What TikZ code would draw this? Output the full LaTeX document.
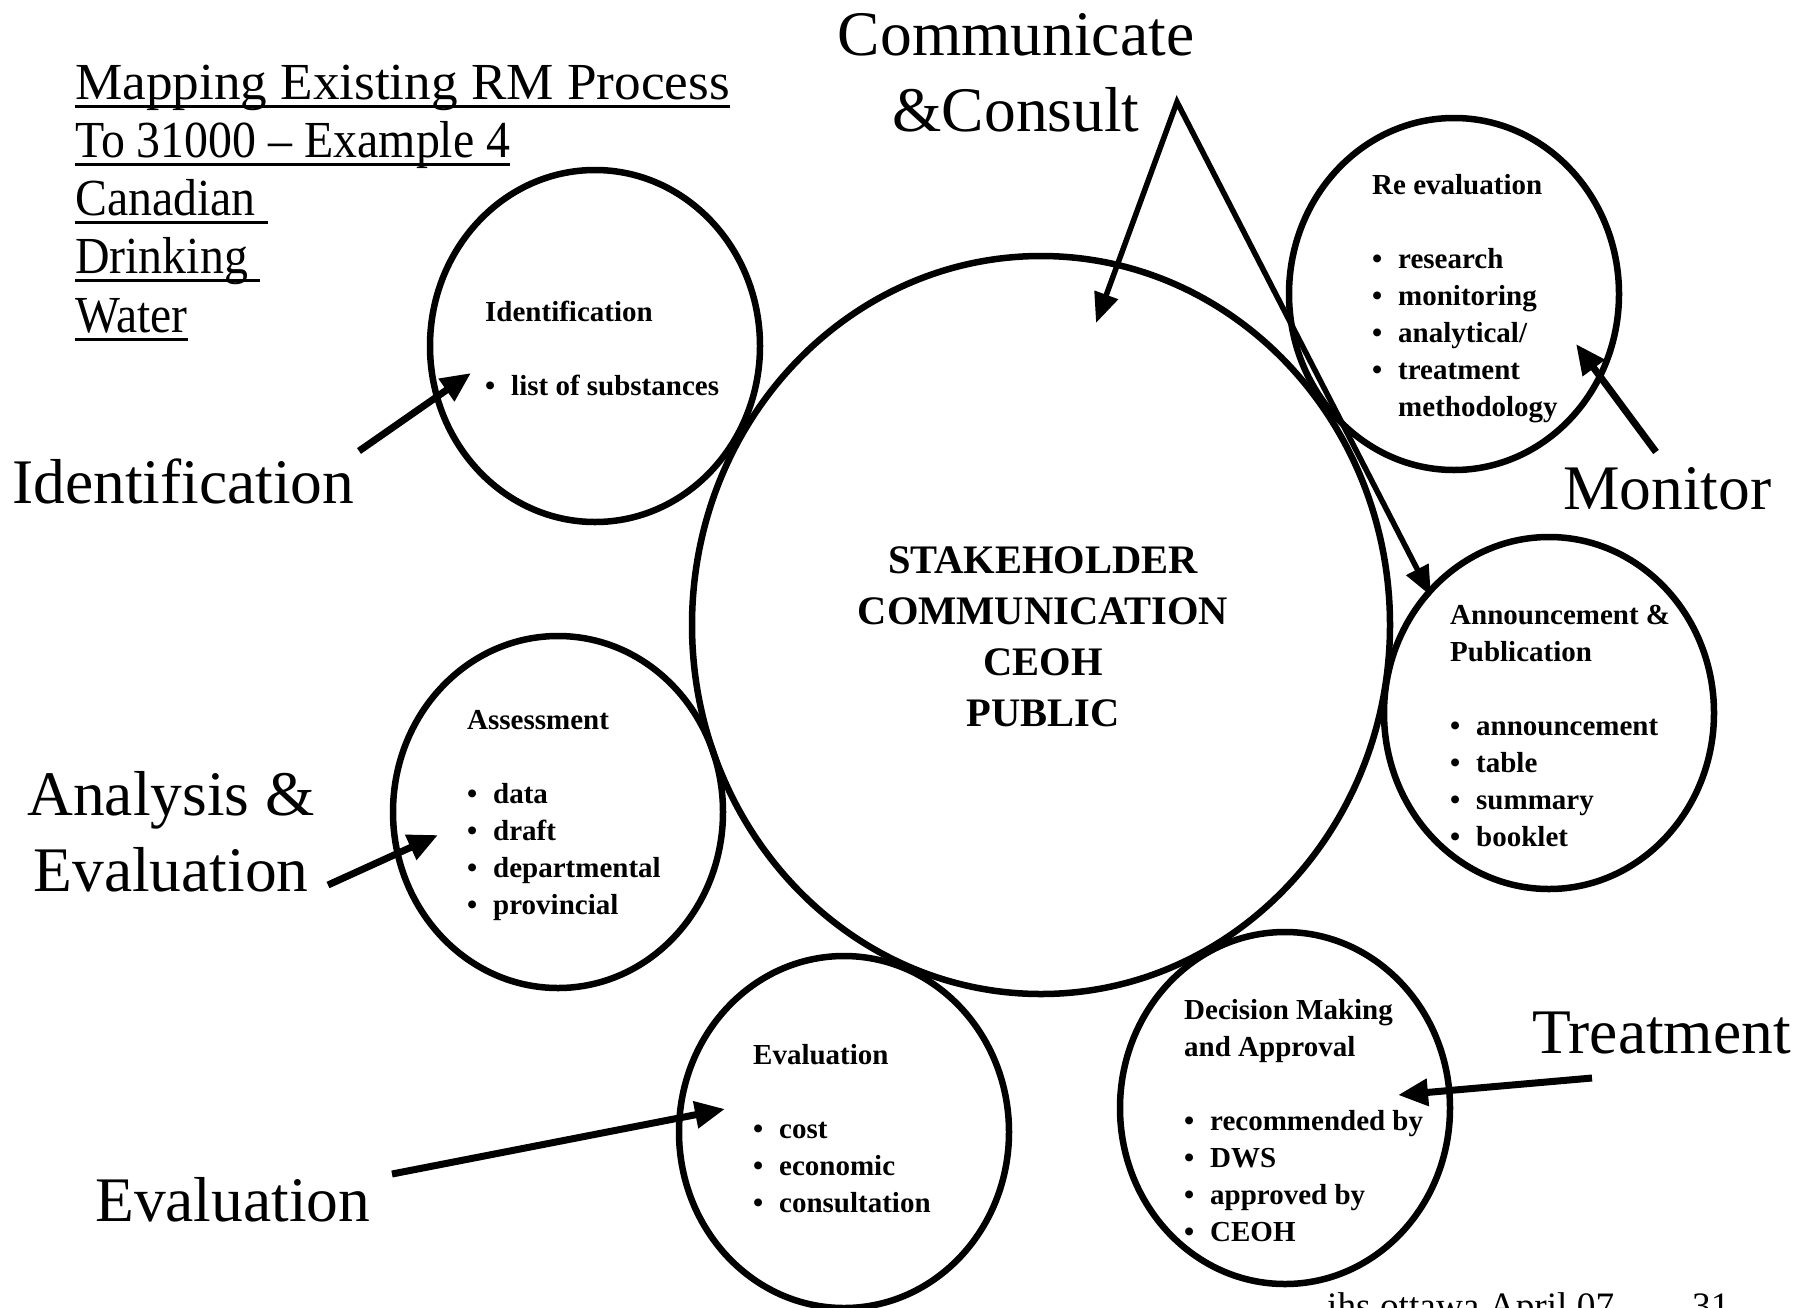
\documentclass[tikz,border=0pt]{standalone}
\usepackage{fontspec}
\usepackage{graphicx}
\setmainfont{Liberation Serif}
\usetikzlibrary{shapes.geometric,arrows.meta}

% underlined title word with the rule at a fixed distance below the baseline
\newcommand\ulword[1]{\setbox0\hbox{#1}\rlap{\rule[-8.5pt]{\wd0}{3pt}}\box0}
% horizontally adjusted title line
\newcommand\tline[2]{\ulword{\scalebox{#1}[1]{#2}}}
% bullet item inside the small circles
\newcommand\bul[1]{\makebox[26pt][l]{\textbullet}#1}

\begin{document}
\begin{tikzpicture}[x=1pt,y=-1pt,
  ring/.style={ellipse, draw, line width=6.5pt, inner sep=0pt,
               minimum width=330pt, minimum height=352pt},
  hub/.style={ellipse, draw, line width=6.5pt, inner sep=0pt,
              minimum width=698pt, minimum height=738pt},
  biglabel/.style={font=\fontsize{63.5}{76}\selectfont, inner sep=0pt},
  smalltext/.style={font=\fontsize{29}{37}\selectfont\bfseries, inner sep=0pt, anchor=base west},
  footfont/.style={font=\fontsize{37.3}{40}\selectfont, inner sep=0pt, anchor=base west},
  pointer/.style={line width=7pt, -{Triangle[length=30pt,width=26pt]}},
  thinpointer/.style={line width=5.5pt}
]
\useasboundingbox (0,0) rectangle (1809,1307);

% circles
\node[hub]  (hub)    at (1041,625) {};
\node[ring] (ident)  at (595,346)  {};
\node[ring] (reeval) at (1454,294) {};
\node[ring] (announ) at (1549,713) {};
\node[ring] (assess) at (558,812)  {};
\node[ring] (evalc)  at (844,1132) {};
\node[ring] (decis)  at (1285,1108) {};

% title
\node[font=\fontsize{52}{58.3}\selectfont, inner sep=0pt, anchor=base west] (title) at (75,99)
  {\begin{tabular}[t]{@{}l@{}}\tline{1.023}{Mapping Existing RM Process}\\
   \tline{0.92}{To 31000 -- Example 4}\\ \tline{0.92}{Canadian\ }\\
   \tline{0.92}{Drinking\ }\\ \tline{0.915}{Water}\end{tabular}};

% centre text
\node[font=\fontsize{40.5}{51}\selectfont\bfseries, inner sep=0pt, anchor=base] (hubtxt) at (1043,573)
  {\begin{tabular}[t]{@{}c@{}}STAKEHOLDER\\ COMMUNICATION\\ CEOH\\ PUBLIC\end{tabular}};

% circle contents
\node[smalltext] (identtxt) at (485,321)
  {\begin{tabular}[t]{@{}l@{}}Identification\\ \\ \bul{list of substances}\end{tabular}};
\node[smalltext] (reevaltxt) at (1372,194)
  {\begin{tabular}[t]{@{}l@{}}Re evaluation\\ \\ \bul{research}\\ \bul{monitoring}\\ \bul{analytical/}\\ \bul{treatment}\\ \hspace*{26pt}methodology\end{tabular}};
\node[smalltext] (annountxt) at (1450,624)
  {\begin{tabular}[t]{@{}l@{}}Announcement \&\\ Publication\\ \\ \bul{announcement}\\ \bul{table}\\ \bul{summary}\\ \bul{booklet}\end{tabular}};
\node[smalltext] (assesstxt) at (467,729)
  {\begin{tabular}[t]{@{}l@{}}Assessment\\ \\ \bul{data}\\ \bul{draft}\\ \bul{departmental}\\ \bul{provincial}\end{tabular}};
\node[smalltext] (evaltxt) at (753,1064)
  {\begin{tabular}[t]{@{}l@{}}Evaluation\\ \\ \bul{cost}\\ \bul{economic}\\ \bul{consultation}\end{tabular}};
\node[smalltext] (decistxt) at (1184,1019)
  {\begin{tabular}[t]{@{}l@{}}Decision Making\\ and Approval\\ \\ \bul{recommended by}\\ \bul{DWS}\\ \bul{approved by}\\ \bul{CEOH}\end{tabular}};

% outer labels
\node[biglabel, anchor=base] (commlbl) at (1016,55)
  {\begin{tabular}[t]{@{}c@{}}Communicate\\ \&Consult\end{tabular}};
\node[biglabel, anchor=base west] (identlbl) at (12,503) {Identification};
\node[biglabel, anchor=base west] (monlbl) at (1563,509) {Monitor};
\node[biglabel, anchor=base] (analbl) at (171,815)
  {\begin{tabular}[t]{@{}c@{}}Analysis \&\\ Evaluation\end{tabular}};
\node[biglabel, anchor=base west] (treatlbl) at (1532,1053) {Treatment};
\node[biglabel, anchor=base west] (evallbl) at (95,1221) {Evaluation};

% footer, running off the lower edge
\node[footfont] (footer) at (1327,1318) {ihs ottawa April 07};
\node[footfont] (pageno) at (1692,1318) {31};

% arrow end points
\coordinate (apex)     at (1177,102);
\coordinate (commtipA) at (1096,323);
\coordinate (commtipB) at (1431,596);
\coordinate (identA)   at (359,451);
\coordinate (identB)   at (471,373);
\coordinate (monA)     at (1656,452);
\coordinate (monB)     at (1576,344);
\coordinate (anaA)     at (328,885);
\coordinate (anaB)     at (438,835);
\coordinate (evalA)    at (392,1174);
\coordinate (evalB)    at (725,1109);
\coordinate (treatA)   at (1592,1078);
\coordinate (treatB)   at (1398,1095);

% arrows
\draw[thinpointer, {Triangle[length=30pt,width=24pt]}-{Triangle[length=30pt,width=24pt]}]
  (commtipA) -- (apex) -- (commtipB);
\draw[pointer] (identA) -- (identB);
\draw[pointer] (monA) -- (monB);
\draw[pointer] (anaA) -- (anaB);
\draw[pointer] (evalA) -- (evalB);
\draw[pointer] (treatA) -- (treatB);
\end{tikzpicture}
\end{document}
